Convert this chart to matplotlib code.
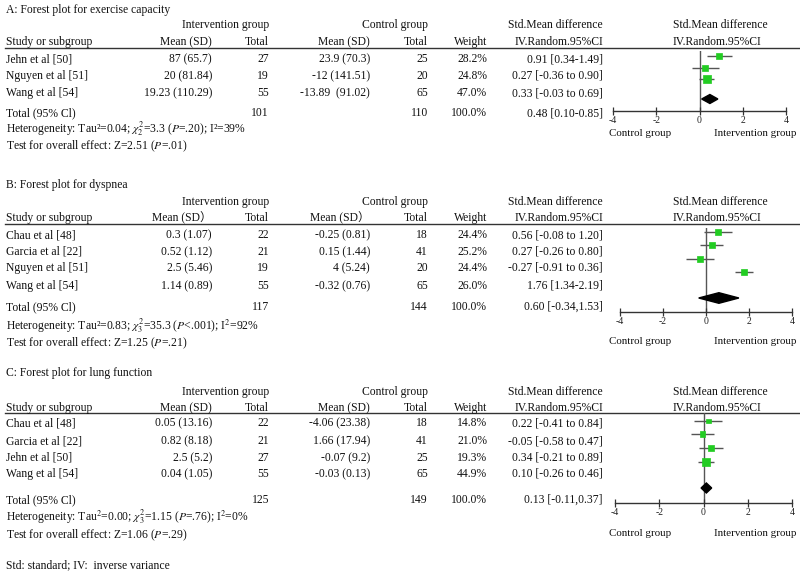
import matplotlib
matplotlib.use("Agg")
import matplotlib.pyplot as plt

plt.rcParams['font.family'] = ['Liberation Serif', 'Noto Sans CJK SC']
plt.rcParams['mathtext.fontset'] = 'stix'

# ---------------- data ----------------
titles = ["A: Forest plot for exercise capacity",
          "B: Forest plot for dyspnea",
          "C: Forest plot for lung function"]
mean_headers = ["Mean (SD)", "Mean (SD\uff09", "Mean (SD)"]

studies_A = ["Jehn et al [50]", "Nguyen et al [51]", "Wang et al [54]"]
int_mean_A = ["87 (65.7)", "20 (81.84)", "19.23 (110.29)"]
int_n_A = [27, 19, 55]
ctl_mean_A = ["23.9 (70.3)", "-12 (141.51)", "-13.89  (91.02)"]
ctl_n_A = [25, 20, 65]
weight_A = [28.2, 24.8, 47.0]
smd_A = [0.91, 0.27, 0.33]
lo_A = [0.34, -0.36, -0.03]
hi_A = [1.49, 0.90, 0.69]
ci_text_A = ["0.91 [0.34-1.49]", "0.27 [-0.36 to 0.90]", "0.33 [-0.03 to 0.69]"]
total_A = [101, 110, "100.0%", "0.48 [0.10-0.85]"]
pooled_A = [0.48, 0.10, 0.85]
het_A = "Heterogeneity: Tau\u00b2=0.04; $\\chi^2_2$=3.3 ($P$=.20); I\u00b2=39%"
test_A = "Test for overall effect: Z=2.51 ($P$=.01)"

studies_B = ["Chau et al [48]", "Garcia et al [22]", "Nguyen et al [51]", "Wang et al [54]"]
int_mean_B = ["0.3 (1.07)", "0.52 (1.12)", "2.5 (5.46)", "1.14 (0.89)"]
int_n_B = [22, 21, 19, 55]
ctl_mean_B = ["-0.25 (0.81)", "0.15 (1.44)", "4 (5.24)", "-0.32 (0.76)"]
ctl_n_B = [18, 41, 20, 65]
weight_B = [24.4, 25.2, 24.4, 26.0]
smd_B = [0.56, 0.27, -0.27, 1.76]
lo_B = [-0.08, -0.26, -0.91, 1.34]
hi_B = [1.20, 0.80, 0.36, 2.19]
ci_text_B = ["0.56 [-0.08 to 1.20]", "0.27 [-0.26 to 0.80]", "-0.27 [-0.91 to 0.36]", "1.76 [1.34-2.19]"]
total_B = [117, 144, "100.0%", "0.60 [-0.34,1.53]"]
pooled_B = [0.60, -0.34, 1.53]
het_B = "Heterogeneity: Tau\u00b2=0.83; $\\chi^2_3$=35.3 ($P$<.001); I$^2$=92%"
test_B = "Test for overall effect: Z=1.25 ($P$=.21)"

studies_C = ["Chau et al [48]", "Garcia et al [22]", "Jehn et al [50]", "Wang et al [54]"]
int_mean_C = ["0.05 (13.16)", "0.82 (8.18)", "2.5 (5.2)", "0.04 (1.05)"]
int_n_C = [22, 21, 27, 55]
ctl_mean_C = ["-4.06 (23.38)", "1.66 (17.94)", "-0.07 (9.2)", "-0.03 (0.13)"]
ctl_n_C = [18, 41, 25, 65]
weight_C = [14.8, 21.0, 19.3, 44.9]
smd_C = [0.22, -0.05, 0.34, 0.10]
lo_C = [-0.41, -0.58, -0.21, -0.26]
hi_C = [0.84, 0.47, 0.89, 0.46]
ci_text_C = ["0.22 [-0.41 to 0.84]", "-0.05 [-0.58 to 0.47]", "0.34 [-0.21 to 0.89]", "0.10 [-0.26 to 0.46]"]
total_C = [125, 149, "100.0%", "0.13 [-0.11,0.37]"]
pooled_C = [0.13, -0.11, 0.37]
het_C = "Heterogeneity: Tau$^2$=0.00; $\\chi^2_3$=1.15 ($P$=.76); I$^2$=0%"
test_C = "Test for overall effect: Z=1.06 ($P$=.29)"

ticks = [-4, -2, 0, 2, 4]
footnote = "Std: standard; IV:  inverse variance"

# ---------------- layout (pixels) ----------------
W, H = 800, 573
FS = 8.4
GREEN = '#22cc22'
panels = [
    dict(title=titles[0], mh=mean_headers[0], st=studies_A, im=int_mean_A, inn=int_n_A,
         cm=ctl_mean_A, cn=ctl_n_A, w=weight_A, smd=smd_A, lo=lo_A, hi=hi_A, ci=ci_text_A,
         tot=total_A, pool=pooled_A, het=het_A, test=test_A,
         ty=10, h1=25, h2=42, line=48, rows=[59, 76, 93], toty=113, hety=129, testy=146,
         fx=(613, 786), fax=111, ftop=51, frows=[56, 68, 79], fdia=99, dh=4.5, lab=133),
    dict(title=titles[1], mh=mean_headers[1], st=studies_B, im=int_mean_B, inn=int_n_B,
         cm=ctl_mean_B, cn=ctl_n_B, w=weight_B, smd=smd_B, lo=lo_B, hi=hi_B, ci=ci_text_B,
         tot=total_B, pool=pooled_B, het=het_B, test=test_B,
         ty=185, h1=202, h2=218, line=224, rows=[235, 252, 268, 286], toty=307, hety=326, testy=343,
         fx=(620, 792), fax=312, ftop=228, frows=[232, 245, 259, 272], fdia=298, dh=5.3, lab=342),
    dict(title=titles[2], mh=mean_headers[2], st=studies_C, im=int_mean_C, inn=int_n_C,
         cm=ctl_mean_C, cn=ctl_n_C, w=weight_C, smd=smd_C, lo=lo_C, hi=hi_C, ci=ci_text_C,
         tot=total_C, pool=pooled_C, het=het_C, test=test_C,
         ty=373, h1=392, h2=408, line=413, rows=[423, 441, 458, 474], toty=500, hety=517, testy=535,
         fx=(615, 792), fax=503, ftop=413, frows=[421, 434, 448, 462], fdia=488, dh=5.0, lab=534),
]

fig = plt.figure(figsize=(W / 100, H / 100), dpi=100)
ax = fig.add_axes([0, 0, 1, 1])
ax.set_xlim(0, W)
ax.set_ylim(H, 0)
ax.axis('off')

X_STUDY = 5
X_IM = 212
X_IN = 269
X_CM = 370
X_CN = 428
X_W = 487
X_CI = 603
X_FH = 673


def t(x, y, s, ha='left', **kw):
    ax.text(x, y, s, ha=ha, va='center', fontsize=kw.pop('fs', FS), color='#111111', **kw)


for p in panels:
    t(X_STUDY + 1, p['ty'], p['title'])
    t(X_IN, p['h1'], "Intervention group", ha='right')
    t(X_CN, p['h1'], "Control group", ha='right')
    t(X_CI, p['h1'], "Std.Mean difference", ha='right')
    t(X_FH, p['h1'], "Std.Mean difference")
    t(X_STUDY + 1, p['h2'], "Study or subgroup")
    t(X_IM, p['h2'], p['mh'], ha='right')
    t(X_IN, p['h2'], "Total", ha='right')
    t(X_CM, p['h2'], p['mh'], ha='right')
    t(X_CN, p['h2'], "Total", ha='right')
    t(X_W, p['h2'], "Weight", ha='right')
    t(X_CI, p['h2'], "IV.Random.95%CI", ha='right')
    t(X_FH, p['h2'], "IV.Random.95%CI")
    ax.plot([X_STUDY, W], [p['line'], p['line']], color='#333333', lw=1.0)

    for i, y in enumerate(p['rows']):
        t(X_STUDY + 1, y, p['st'][i])
        t(X_IM, y, p['im'][i], ha='right')
        t(X_IN, y, str(p['inn'][i]), ha='right')
        t(X_CM, y, p['cm'][i], ha='right')
        t(X_CN, y, str(p['cn'][i]), ha='right')
        t(X_W, y, "%.1f%%" % p['w'][i], ha='right')
        t(X_CI, y, p['ci'][i], ha='right')

    t(X_STUDY + 1, p['toty'], "Total (95% Cl)")
    t(X_IN, p['toty'], str(p['tot'][0]), ha='right')
    t(X_CN, p['toty'], str(p['tot'][1]), ha='right')
    t(X_W, p['toty'], p['tot'][2], ha='right')
    t(X_CI, p['toty'], p['tot'][3], ha='right')
    t(X_STUDY + 1, p['hety'], p['het'])
    t(X_STUDY + 1, p['testy'], p['test'])

    # forest axes
    x0, x1 = p['fx']
    fax = fig.add_axes([x0 / W, 1 - p['fax'] / H, (x1 - x0) / W, (p['fax'] - p['ftop']) / H])
    fax.set_xlim(ticks[0], ticks[-1])
    fax.set_ylim(p['fax'], p['ftop'])
    fax.patch.set_visible(False)
    for s in ('left', 'right', 'top'):
        fax.spines[s].set_visible(False)
    fax.spines['bottom'].set_color('#333333')
    fax.spines['bottom'].set_linewidth(1.0)
    fax.set_yticks([])
    fax.set_xticks(ticks)
    fax.set_xticklabels([str(v) for v in ticks])
    fax.tick_params(axis='x', direction='inout', length=6, width=0.9, color='#333333',
                    labelsize=7, pad=0.5, labelcolor='#222222')
    fax.axvline(0, color='#555555', lw=1.0, zorder=1)
    fax.hlines(p['frows'], p['lo'], p['hi'], color='#555555', lw=1.0, zorder=2)
    sizes = [((w ** 0.5) * 1.15 * 0.72) ** 2 for w in p['w']]
    fax.scatter(p['smd'], p['frows'], s=sizes, marker='s', color=GREEN, zorder=3,
                edgecolors=GREEN, linewidths=0.5, clip_on=False)
    est, lo, hi = p['pool']
    yd, dh = p['fdia'], p['dh']
    fax.fill([lo, est, hi, est], [yd, yd - dh, yd, yd + dh], color='black', zorder=4, clip_on=False)

    t(609, p['lab'], "Control group", fs=7.9)
    t(796, p['lab'], "Intervention group", ha='right', fs=7.9)

t(X_STUDY + 1, 565, footnote)

fig.savefig("out.png", dpi=100)
